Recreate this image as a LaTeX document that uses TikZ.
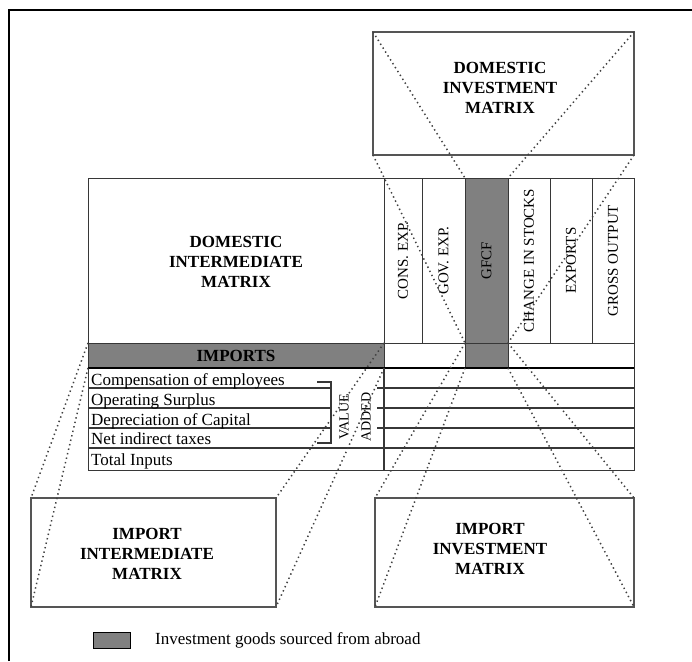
\documentclass[tikz,border=0pt]{standalone}
\usepackage{fontspec}
\setmainfont{Liberation Serif}
\usetikzlibrary{positioning}

\definecolor{goodsgray}{RGB}{128,128,128}
\definecolor{rulegray}{RGB}{55,55,55}
\definecolor{boxgray}{RGB}{85,85,85}

\begin{document}
\begin{tikzpicture}[x=1pt,y=-1pt,
  cell/.style={rectangle,draw=rulegray,line width=1pt,inner sep=0pt,outer sep=0pt},
  matbox/.style={rectangle,draw=boxgray,line width=1.4pt,inner sep=0pt,outer sep=0pt},
  head/.style={font=\fontsize{17}{20}\selectfont\bfseries,align=center},
  coltext/.style={rotate=90,font=\fontsize{15}{18}\selectfont},
  rowtext/.style={anchor=base west,font=\fontsize{17}{20}\selectfont,inner sep=0pt},
  rowline/.style={draw=rulegray,line width=1.2pt},
  zoomline/.style={draw=black!75,line width=1.5pt,dash pattern=on 1.4pt off 3.2pt}]

\useasboundingbox (0,0) rectangle (692,661);
% frame of the figure
\draw[line width=1.6pt] (9,661) -- (9,10) -- (692,10);

% upper part of the table
\node[cell,minimum width=296pt,minimum height=165pt] (dim) at (236,260.5) {};
\node[head] (dimlbl) at (236,262) {DOMESTIC\\INTERMEDIATE\\MATRIX};

\node[cell,minimum width=38pt,minimum height=165pt] (cons) at (403,260.5) {};
\node[cell,minimum width=43pt,minimum height=165pt] (gov) at (443.5,260.5) {};
\node[cell,fill=goodsgray,minimum width=43pt,minimum height=165pt] (gfcf) at (486.5,260.5) {};
\node[cell,minimum width=42pt,minimum height=165pt] (chg) at (529,260.5) {};
\node[cell,minimum width=42pt,minimum height=165pt] (expo) at (571,260.5) {};
\node[cell,minimum width=42pt,minimum height=165pt] (gross) at (613,260.5) {};

\node[coltext] (conslbl) at (cons.center) {CONS. EXP.};
\node[coltext] (govlbl) at (gov.center) {GOV. EXP.};
\node[coltext] (gfcflbl) at (gfcf.center) {GFCF};
\node[coltext] (chglbl) at (chg.center) {CHANGE IN STOCKS};
\node[coltext] (expolbl) at (expo.center) {EXPORTS};
\node[coltext] (grosslbl) at (gross.center) {GROSS OUTPUT};

% imports row
\node[cell,fill=goodsgray,minimum width=296pt,minimum height=25pt,font=\fontsize{17}{20}\selectfont\bfseries] (imp) at (236,355.5) {IMPORTS};
\node[cell,minimum width=250pt,minimum height=25pt] (imprest) at (509,355.5) {};
\node[cell,fill=goodsgray,minimum width=43pt,minimum height=25pt] (gfcfimp) at (486.5,355.5) {};

% value added rows
\draw[cell] (88,368) rectangle (634,470);
\draw[line width=1.8pt] (88,368) -- (634,368);
\draw[rowline] (384,368) -- (384,470);
\draw[rowline] (88,388) -- (331,388);
\draw[rowline] (88,408) -- (331,408);
\draw[rowline] (88,428) -- (331,428);
\draw[rowline] (377,388) -- (634,388);
\draw[rowline] (377,408) -- (634,408);
\draw[rowline] (377,428) -- (634,428);
\draw[rowline] (88,448) -- (634,448);
\draw[rowline] (317,382) -- (331,382) -- (331,443) -- (317,443);

\node[rowtext] (comp) at (91,385) {Compensation of employees};
\node[rowtext] (opsur) at (91,405) {Operating Surplus};
\node[rowtext] (depr) at (91,425) {Depreciation of Capital};
\node[rowtext] (nit) at (91,444.5) {Net indirect taxes};
\node[rowtext] (totin) at (91,465) {Total Inputs};
\node[rotate=90,align=center,font=\fontsize{14}{22}\selectfont] (valadd) at (355,417) {VALUE\\ADDED};

% detail matrices
\node[matbox,minimum width=261pt,minimum height=123pt] (dinv) at (503.5,93.5) {};
\node[head] (dinvlbl) at (500,88) {DOMESTIC\\INVESTMENT\\MATRIX};
\node[matbox,minimum width=245pt,minimum height=109pt] (iint) at (153.5,552.5) {};
\node[head] (iintlbl) at (147,554) {IMPORT\\INTERMEDIATE\\MATRIX};
\node[matbox,minimum width=259pt,minimum height=109pt] (iinv) at (504.5,552.5) {};
\node[head] (iinvlbl) at (490,549) {IMPORT\\INVESTMENT\\MATRIX};

% dotted zoom lines
\draw[zoomline] (dinv.north west) -- (gfcf.north west);
\draw[zoomline] (dinv.north east) -- (gfcf.north east);
\draw[zoomline] (dinv.south west) -- (gfcf.south west);
\draw[zoomline] (dinv.south east) -- (gfcf.south east);
\draw[zoomline] (imp.north west) -- (iint.north west);
\draw[zoomline] (imp.south west) -- (iint.south west);
\draw[zoomline] (imp.north east) -- (iint.north east);
\draw[zoomline] (imp.south east) -- (iint.south east);
\draw[zoomline] (gfcfimp.north west) -- (iinv.north west);
\draw[zoomline] (gfcfimp.south west) -- (iinv.south west);
\draw[zoomline] (gfcfimp.north east) -- (iinv.north east);
\draw[zoomline] (gfcfimp.south east) -- (iinv.south east);

% legend
\node[cell,draw=black,fill=goodsgray,minimum width=37pt,minimum height=16pt] (legbox) at (111.5,640) {};
\node[anchor=west,font=\fontsize{17}{20}\selectfont,inner sep=0pt,right=25pt of legbox] (legtext) {Investment goods sourced from abroad};

\end{tikzpicture}
\end{document}
